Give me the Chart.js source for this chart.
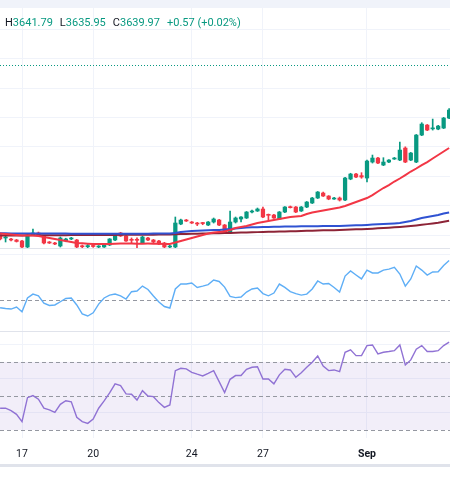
<!DOCTYPE html>
<html>
<head>
<meta charset="utf-8">
<script src="https://cdn.jsdelivr.net/npm/chart.js@4.4.1/dist/chart.umd.min.js"></script>
<style>
  html, body { margin: 0; padding: 0; background: #fff; }
  #wrap { position: relative; width: 450px; height: 495px; overflow: hidden; font-family: Roboto, "Noto Sans", sans-serif; }
  .band { position: absolute; left: 0; width: 450px; background: #f0f3fa; }
  .sep { position: absolute; left: 0; width: 450px; height: 1px; background: #e0e3eb; }
  canvas { position: absolute; left: 0; }
  #legend { position: absolute; left: 5px; top: 16px; font-size: 11px; line-height: 13px; color: #089981; white-space: nowrap; }
  #legend span { margin-right: 7px; }
  #legend b { font-weight: normal; color: #131722; }
</style>
</head>
<body>
<div id="wrap">
  <div class="band" style="top:0;height:8px"></div>
  <canvas id="main" width="450" height="240" style="top:8px"></canvas>
  <div class="sep" style="top:248px"></div>
  <canvas id="osc" width="450" height="82" style="top:249px"></canvas>
  <div class="sep" style="top:331px"></div>
  <canvas id="rsi" width="450" height="132" style="top:332px"></canvas>
  <div class="band" style="top:464px;height:3px;background:#e0e3eb"></div>
  <div id="legend"><span><b>H</b>3641.79</span><span><b>L</b>3635.95</span><span><b>C</b>3639.97</span><span>+0.57 (+0.02%)</span></div>
</div>
<script>
const FONT = 'Roboto, "Noto Sans", sans-serif';

// time axis (one entry per 4h bar, labels only where the day starts)
const dayTickIndex = [4, 17, 35, 48, 67];
const dayTickLabels = ["17", "20", "24", "27", "Sep"];
const lastClose = 3639.97;

// candles
const opens = [3351.7,3344.9,3343.2,3341.5,3339.8,3329.6,3350.0,3353.4,3348.3,3338.1,
  3336.4,3331.3,3339.8,3343.2,3341.5,3331.5,3330.0,3332.0,3329.6,3329.6,
  3333.0,3341.5,3353.4,3348.3,3342.0,3342.0,3336.4,3344.9,3341.5,3339.8,
  3336.4,3329.6,3329.6,3368.7,3375.5,3372.1,3370.4,3370.4,3367.0,3372.1,
  3375.5,3367.0,3353.4,3372.1,3377.2,3378.9,3389.1,3390.8,3394.2,3384.5,
  3384.0,3377.2,3389.1,3398.0,3397.6,3390.8,3397.6,3404.4,3412.9,3421.4,
  3416.3,3411.2,3412.9,3409.5,3445.2,3453.7,3451.0,3446.9,3474.1,3480.9,
  3469.0,3474.1,3479.2,3477.5,3497.9,3477.5,3474.1,3520.0,3537.0,3530.5,
  3530.2,3531.9,3548.9];
const highs = [3353.5,3350.0,3344.5,3342.5,3341.0,3351.5,3360.2,3355.0,3349.5,3339.0,
  3337.5,3346.6,3344.5,3346.0,3342.5,3333.0,3334.0,3334.0,3332.0,3335.5,
  3344.0,3353.0,3354.5,3349.0,3345.0,3345.0,3348.0,3346.0,3342.5,3341.0,
  3337.5,3332.5,3380.6,3377.0,3376.5,3373.0,3371.5,3371.5,3373.0,3378.9,
  3376.5,3368.0,3390.8,3380.6,3381.5,3390.0,3392.5,3395.9,3397.6,3385.7,
  3385.0,3390.0,3398.5,3399.3,3398.5,3398.5,3407.0,3414.0,3424.0,3423.0,
  3417.0,3414.0,3414.6,3448.0,3455.0,3455.0,3456.0,3477.5,3486.0,3482.0,
  3481.5,3478.5,3482.0,3508.1,3500.0,3490.5,3521.0,3541.0,3538.0,3547.2,
  3536.5,3550.0,3565.0];
const lows = [3341.5,3338.1,3340.0,3338.0,3328.5,3328.0,3349.0,3349.0,3335.0,3335.5,
  3333.5,3329.6,3338.5,3342.0,3328.5,3328.5,3328.5,3329.0,3327.9,3329.0,
  3332.0,3340.5,3347.5,3339.0,3336.5,3328.0,3335.5,3340.5,3337.0,3333.5,
  3328.5,3328.5,3328.0,3367.5,3373.0,3369.5,3366.0,3367.5,3366.0,3370.4,
  3366.0,3354.0,3352.5,3370.4,3372.1,3378.0,3387.4,3390.0,3379.5,3375.5,
  3378.0,3376.5,3388.0,3395.9,3388.0,3390.0,3396.5,3403.5,3412.0,3415.5,
  3410.0,3410.5,3407.8,3408.5,3444.0,3447.5,3446.5,3440.1,3472.4,3471.5,
  3468.0,3473.0,3478.5,3476.5,3473.0,3476.5,3473.0,3519.0,3527.5,3528.5,
  3529.0,3531.0,3548.0];
const closes = [3343.2,3346.6,3341.5,3339.0,3329.6,3350.0,3353.4,3350.0,3336.4,3336.4,
  3334.7,3344.9,3343.2,3344.9,3329.6,3330.0,3332.0,3330.5,3331.0,3334.7,
  3343.2,3351.7,3348.3,3339.8,3341.0,3341.0,3346.6,3341.5,3338.1,3334.7,
  3329.6,3331.3,3370.4,3375.5,3373.8,3370.4,3368.7,3369.5,3372.1,3377.2,
  3367.0,3355.1,3372.1,3378.9,3380.6,3389.1,3390.8,3394.2,3380.6,3383.5,
  3378.9,3389.1,3397.6,3396.5,3389.1,3397.6,3406.1,3412.9,3423.1,3416.3,
  3411.2,3412.9,3409.5,3446.9,3453.7,3448.6,3448.6,3475.8,3480.9,3472.4,
  3474.1,3477.5,3480.9,3494.5,3474.1,3489.4,3520.0,3538.7,3528.5,3532.0,
  3535.3,3548.9,3562.5];

// moving averages
const maFast = [3352.6,3351.7,3350.9,3350.0,3349.1,3349.1,3349.1,3348.3,3346.6,3344.9,
  3343.2,3341.5,3339.8,3338.1,3336.4,3335.8,3335.2,3334.8,3334.5,3334.5,
  3334.8,3335.2,3335.5,3335.5,3335.4,3335.2,3335.3,3335.4,3335.3,3335.1,
  3334.8,3334.6,3337.2,3339.8,3342.3,3344.9,3347.4,3350.0,3352.6,3354.3,
  3355.1,3356.0,3358.5,3361.9,3363.6,3365.3,3367.9,3370.4,3372.1,3373.8,
  3375.5,3377.2,3378.9,3380.6,3381.5,3382.3,3385.7,3388.3,3390.0,3391.7,
  3393.4,3395.1,3396.8,3399.3,3402.7,3406.1,3409.5,3412.9,3418.0,3424.0,
  3429.9,3435.0,3441.0,3446.1,3452.0,3458.0,3463.1,3469.0,3474.1,3480.1,
  3486.1,3492.0,3498.0];
const maMid = [3352.8,3352.8,3352.7,3352.7,3352.6,3352.6,3352.6,3352.6,3352.5,3352.5,
  3352.4,3352.4,3352.4,3352.3,3352.3,3352.2,3352.2,3352.2,3352.1,3352.1,
  3352.1,3352.1,3352.2,3352.2,3352.2,3352.3,3352.3,3352.3,3352.4,3352.4,
  3352.4,3352.5,3353.4,3355.1,3356.0,3356.8,3357.3,3357.7,3358.0,3358.5,
  3358.6,3359.4,3360.2,3361.1,3361.9,3362.8,3363.1,3363.4,3363.6,3363.8,
  3363.9,3364.1,3364.3,3364.5,3364.6,3364.8,3364.8,3365.0,3365.1,3365.2,
  3365.3,3365.4,3365.5,3365.8,3366.2,3366.5,3366.8,3367.2,3367.7,3368.2,
  3368.7,3369.2,3369.7,3370.4,3372.1,3373.8,3376.4,3378.9,3380.6,3382.3,
  3384.0,3386.6,3388.3];
const maSlow = [3349.1,3349.2,3349.2,3349.3,3349.3,3349.4,3349.4,3349.5,3349.5,3349.6,
  3349.6,3349.7,3349.7,3349.8,3349.8,3349.9,3349.9,3350.0,3350.0,3350.1,
  3350.2,3350.2,3350.3,3350.3,3350.4,3350.4,3350.5,3350.6,3350.6,3350.7,
  3350.8,3350.9,3351.3,3351.6,3351.8,3352.0,3352.2,3352.5,3352.7,3352.9,
  3353.1,3353.4,3353.6,3353.9,3354.1,3354.4,3354.6,3354.9,3355.1,3355.4,
  3355.6,3355.9,3356.1,3356.4,3356.6,3356.9,3357.1,3357.4,3357.6,3357.9,
  3358.1,3358.3,3358.5,3358.8,3359.2,3359.6,3360.0,3360.4,3360.8,3361.3,
  3361.8,3362.4,3363.0,3363.7,3364.5,3365.3,3366.3,3367.4,3368.5,3369.7,
  3371.0,3372.6,3374.3];

// oscillator panes
const oscValues = [45.5,45.0,44.7,45.9,43.1,51.2,53.5,52.5,48.2,46.8,
  47.1,49.0,50.9,51.2,47.1,41.8,40.6,42.5,47.6,51.2,
  52.9,53.5,52.4,50.6,54.9,55.3,58.2,56.2,52.4,48.8,
  46.2,45.3,56.5,59.4,59.4,60.0,57.4,58.2,59.1,61.8,
  60.9,57.6,52.1,51.4,51.8,54.7,56.5,57.1,53.8,52.5,
  54.1,59.4,57.4,55.0,53.8,52.9,53.5,56.5,61.2,59.4,
  59.7,57.4,54.7,64.1,67.1,64.7,62.4,67.6,65.9,65.9,
  67.6,68.2,69.2,65.3,58.2,62.4,70.0,67.6,64.7,66.5,
  66.6,70.3,73.2];
const rsiValues = [42.8,42.8,41.4,39.2,34.9,49.0,50.2,48.1,42.8,41.8,
  40.4,45.1,47.2,46.6,37.5,34.9,33.9,36.5,42.8,47.1,
  51.8,57.1,56.1,51.2,51.0,47.6,53.1,50.0,49.6,46.1,
  43.3,44.7,64.9,66.3,65.9,63.9,62.8,61.8,63.3,64.9,
  58.4,52.0,59.8,62.0,62.0,65.7,66.9,67.2,60.0,60.0,
  57.1,62.4,65.7,65.3,61.0,63.7,66.9,69.8,73.5,67.6,
  64.9,65.3,64.3,75.7,77.1,73.7,73.7,79.6,80.0,74.7,
  75.7,76.1,76.6,80.0,68.2,71.2,77.5,79.6,76.1,76.1,
  76.6,79.6,81.6];

const UP = '#089981', DOWN = '#f23645', GRID = '#f0f3fa';
const X_MIN = -0.018, X_MAX = 82.16;

const pts = (arr) => arr.map((v, i) => ({ x: i, y: v }));

// horizontal reference lines / band, placed through the y scale
const refLines = {
  id: 'refLines',
  beforeDatasetsDraw(chart, args, opts) {
    const { ctx, chartArea: a, scales: { y } } = chart;
    ctx.save();
    if (opts.band) {
      const t = y.getPixelForValue(opts.band[1]);
      const b = y.getPixelForValue(opts.band[0]);
      ctx.fillStyle = opts.bandColor;
      ctx.fillRect(a.left, t, a.width, b - t);
    }
    (opts.lines || []).forEach(v => {
      const py = Math.round(y.getPixelForValue(v)) + 0.5;
      ctx.strokeStyle = opts.color;
      ctx.lineWidth = 1;
      ctx.setLineDash(opts.dash);
      ctx.beginPath();
      ctx.moveTo(a.left, py);
      ctx.lineTo(a.right, py);
      ctx.stroke();
    });
    ctx.restore();
  }
};

function xAxis(showTicks) {
  const axis = {
    type: 'linear', min: X_MIN, max: X_MAX, offset: false,
    grid: { color: GRID, drawTicks: false, offset: false },
    border: { display: false },
    afterBuildTicks: (a) => { a.ticks = dayTickIndex.map(v => ({ value: v })); },
    ticks: {
      display: showTicks, autoSkip: false, maxRotation: 0, padding: 10, color: '#131722',
      font: (c) => ({ family: FONT, size: 10.5, weight: c.index === 4 ? 'bold' : 'normal' }),
      callback: (v, i) => dayTickLabels[i]
    }
  };
  if (showTicks) axis.afterFit = (a) => { a.height = 26; };
  return axis;
}

function yAxis(min, max, gridValues) {
  return {
    type: 'linear', min: min, max: max, beginAtZero: false,
    grid: { color: GRID, drawTicks: false },
    border: { display: false },
    ticks: { display: false },
    afterBuildTicks: (axis) => { axis.ticks = gridValues.map(v => ({ value: v })); }
  };
}

const baseOpts = {
  responsive: false, animation: false,
  layout: { padding: 0 },
  events: []
};

const candleColors = closes.map((c, i) => c >= opens[i] ? UP : DOWN);

new Chart(document.getElementById('main'), {
  type: 'bar',
  data: {
    datasets: [
      { type: 'line', data: pts(maFast), borderColor: '#f23645', borderWidth: 2, pointRadius: 0, tension: 0 },
      { type: 'line', data: pts(maMid), borderColor: '#2f52d2', borderWidth: 2, pointRadius: 0, tension: 0 },
      { type: 'line', data: pts(maSlow), borderColor: '#8d2437', borderWidth: 2, pointRadius: 0, tension: 0 },
      { type: 'bar', data: closes.map((c, i) => ({ x: i, y: [opens[i], c] })), backgroundColor: candleColors,
        barThickness: 3.6, grouped: false, minBarLength: 1, borderWidth: 0 },
      { type: 'bar', data: highs.map((h, i) => ({ x: i, y: [lows[i], h] })), backgroundColor: candleColors,
        barThickness: 1, grouped: false, borderWidth: 0 }
    ]
  },
  options: {
    ...baseOpts,
    scales: {
      x: xAxis(false),
      y: yAxis(3327.9, 3736.1, [3350, 3400, 3450, 3500, 3550, 3600, 3650, 3700])
    },
    plugins: {
      legend: { display: false }, tooltip: { enabled: false },
      refLines: { lines: [lastClose], color: UP, dash: [1, 2] }
    }
  },
  plugins: [refLines]
});

new Chart(document.getElementById('osc'), {
  type: 'line',
  data: {
    datasets: [
      { data: pts(oscValues), borderColor: '#5eaef6', borderWidth: 1.4, pointRadius: 0, tension: 0 }
    ]
  },
  options: {
    ...baseOpts,
    scales: { x: xAxis(false), y: yAxis(31.8, 80.0, [77]) },
    plugins: {
      legend: { display: false }, tooltip: { enabled: false },
      refLines: { lines: [50], color: '#9598a1', dash: [4, 3] }
    }
  },
  plugins: [refLines]
});

new Chart(document.getElementById('rsi'), {
  type: 'line',
  data: {
    datasets: [
      { data: pts(rsiValues), borderColor: '#9072d4', borderWidth: 1.4, pointRadius: 0, tension: 0 }
    ]
  },
  options: {
    ...baseOpts,
    scales: { x: xAxis(true), y: yAxis(25.3, 87.6, [40, 60, 80]) },
    plugins: {
      legend: { display: false }, tooltip: { enabled: false },
      refLines: { lines: [30, 50, 70], band: [30, 70], bandColor: 'rgba(126,87,194,0.1)', color: '#9598a1', dash: [4, 3] }
    }
  },
  plugins: [refLines]
});
</script>
</body>
</html>
